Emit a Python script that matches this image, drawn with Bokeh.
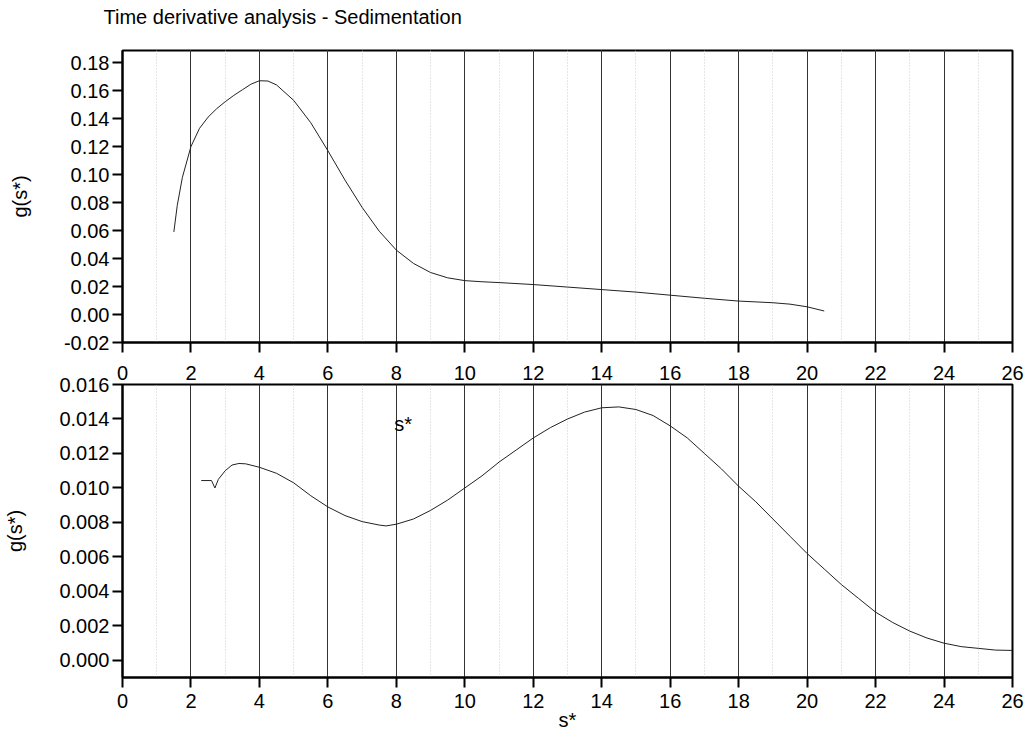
from bokeh.plotting import figure
from bokeh.layouts import column
from bokeh.models import Range1d, SingleIntervalTicker, PrintfTickFormatter, Label
from bokeh.embed import file_html
from bokeh.resources import INLINE

# Upper panel: g(s*) from the time-derivative analysis
s_top = [1.5, 1.6, 1.75, 2.0, 2.25, 2.5, 2.75, 3.0, 3.25, 3.5, 3.75, 4.0, 4.25, 4.5,
         5.0, 5.5, 6.0, 6.5, 7.0, 7.5, 8.0, 8.5, 9.0, 9.5, 10.0, 10.5, 11.0, 12.0,
         13.0, 14.0, 15.0, 16.0, 17.0, 18.0, 19.0, 19.5, 20.0, 20.5]
g_top = [0.059, 0.078, 0.098, 0.120, 0.133, 0.141, 0.147, 0.152, 0.1565, 0.1605, 0.1645,
         0.1670, 0.1668, 0.1640, 0.1530, 0.1370, 0.1170, 0.0960, 0.0765, 0.0595, 0.0460,
         0.0365, 0.0300, 0.0262, 0.0242, 0.0234, 0.0228, 0.0214, 0.0196, 0.0178, 0.0160,
         0.0138, 0.0116, 0.0096, 0.0084, 0.0074, 0.0055, 0.0025]

# Lower panel: g(s*) second distribution
s_bot = [2.3, 2.6, 2.7, 2.8, 3.0, 3.2, 3.4, 3.6, 4.0, 4.5, 5.0, 5.5, 6.0, 6.5, 7.0,
         7.5, 7.7, 8.0, 8.5, 9.0, 9.5, 10.0, 10.5, 11.0, 11.5, 12.0, 12.5, 13.0, 13.5,
         14.0, 14.5, 15.0, 15.5, 16.0, 16.5, 17.0, 17.5, 18.0, 18.5, 19.0, 19.5,
         20.0, 20.5, 21.0, 21.5, 22.0, 22.5, 23.0, 23.5, 24.0, 24.5, 25.0, 25.5, 26.0]
g_bot = [0.01043, 0.01043, 0.0100, 0.0105, 0.0110, 0.01133, 0.01142, 0.0114, 0.0112,
         0.01085, 0.0103, 0.00955, 0.0089, 0.0084, 0.00805, 0.00785, 0.0078, 0.0079,
         0.0082, 0.0087, 0.0093, 0.0100, 0.0107, 0.0115, 0.0122, 0.0129, 0.0135,
         0.0140, 0.0144, 0.01465, 0.0147, 0.01455, 0.0142, 0.0136, 0.0129, 0.0120,
         0.0111, 0.0101, 0.0092, 0.0082, 0.0072, 0.0062, 0.0053, 0.0044, 0.0036,
         0.0028, 0.0022, 0.0017, 0.0013, 0.0010, 0.0008, 0.0007, 0.0006, 0.00058]

TITLE = "Time derivative analysis - Sedimentation"
X_LABEL = "s*"
Y_LABEL = "g(s*)"

FONT = "Liberation Sans"
FS = "20px"


def style(p, y_ticker, y_fmt, label_standoff, x_standoff):
    p.outline_line_color = "black"
    p.outline_line_width = 2
    p.background_fill_color = "white"

    xt = SingleIntervalTicker(interval=2, num_minor_ticks=2)
    p.xaxis.ticker = xt
    p.xgrid.ticker = xt
    p.yaxis.ticker = y_ticker
    p.yaxis.formatter = PrintfTickFormatter(format=y_fmt)

    for ax in (p.xaxis[0], p.yaxis[0]):
        ax.axis_line_width = 2
        ax.axis_line_color = "black"
        ax.major_tick_line_width = 2
        ax.major_tick_line_color = "black"
        ax.major_tick_out = 10
        ax.major_tick_in = 0
        ax.minor_tick_line_color = None
        ax.major_label_text_font = FONT
        ax.major_label_text_font_size = FS
        ax.major_label_text_color = "black"
        ax.axis_label_text_font = FONT
        ax.axis_label_text_font_size = FS
        ax.axis_label_text_font_style = "normal"
        ax.axis_label_text_color = "black"
    p.xaxis.major_label_standoff = x_standoff
    p.yaxis.major_label_standoff = 3
    p.yaxis.axis_label = Y_LABEL
    p.yaxis.axis_label_standoff = label_standoff

    p.xgrid.grid_line_color = "#333333"
    p.xgrid.grid_line_width = 1
    p.xgrid.minor_grid_line_color = "#cccccc"
    p.xgrid.minor_grid_line_dash = "1 2"
    p.ygrid.visible = False


# heading strip across the top of the page
head = figure(width=1031, height=50, min_border=0, x_range=Range1d(0, 1031),
              y_range=Range1d(0, 50), output_backend="svg", toolbar_location=None)
head.frame_align = False
head.axis.visible = False
head.grid.visible = False
head.outline_line_color = None
head.add_layout(Label(x=103, y=34, x_units="screen", y_units="screen", text=TITLE,
                      text_font=FONT, text_font_size=FS, text_color="black",
                      text_align="left", text_baseline="middle"))

top = figure(frame_width=890, frame_height=292, min_border_left=122,
             min_border_right=19, min_border_top=6, min_border_bottom=42,
             x_range=Range1d(0, 26), y_range=Range1d(-0.02, 0.1886),
             output_backend="svg", toolbar_location=None,
             margin=(-6, 0, 0, 0))
style(top, SingleIntervalTicker(interval=0.02, num_minor_ticks=0), "%.2f", 30, 13)
top.border_fill_alpha = 0
top.line(s_top, g_top, line_color="#222222", line_width=1)

bot = figure(frame_width=890, frame_height=293, min_border_left=122,
             min_border_right=19, min_border_top=14, min_border_bottom=50,
             x_range=Range1d(0, 26), y_range=Range1d(-0.00099, 0.016),
             output_backend="svg", toolbar_location=None,
             margin=(-14, 0, 0, 0))
style(bot, SingleIntervalTicker(interval=0.002, num_minor_ticks=0), "%.3f", 30, 6)
bot.border_fill_alpha = 0
bot.xaxis.axis_label = X_LABEL
bot.xaxis.axis_label_standoff = -2
bot.line(s_bot, g_bot, line_color="#222222", line_width=1)

# x-axis title of the upper panel sits just under its tick labels
bot.add_layout(Label(x=8.2, y=254, y_units="screen", text=X_LABEL,
                     text_font=FONT, text_font_size=FS, text_color="black",
                     text_align="center", text_baseline="middle"))

layout = column(head, top, bot, spacing=0)
open("out.html", "w").write(file_html(layout, INLINE))
